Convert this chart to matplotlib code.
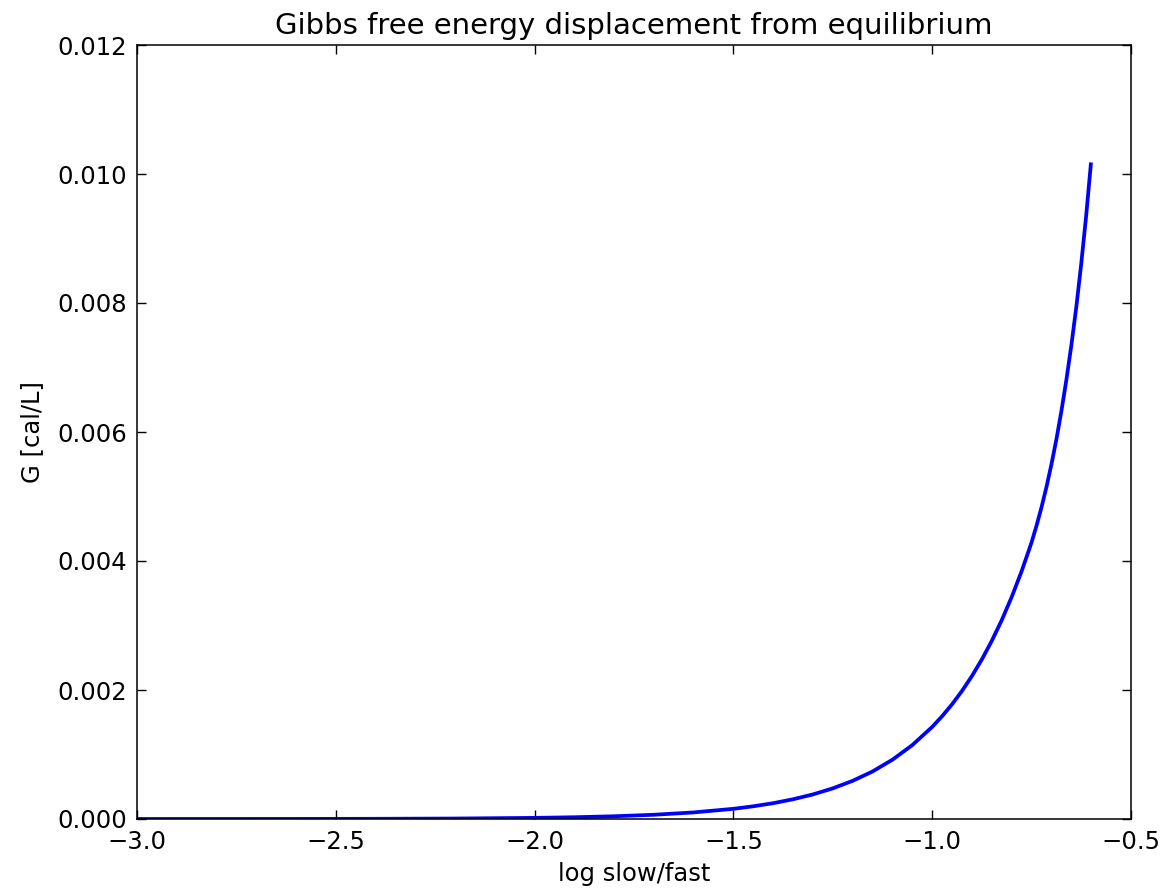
import matplotlib
matplotlib.use("Agg")
import matplotlib.pyplot as plt

# log(slow/fast) values and Gibbs free energy displacement [cal/L]
log_ratio = [-3.0, -2.8, -2.6, -2.4, -2.2, -2.0, -1.9, -1.8, -1.7, -1.6,
             -1.5, -1.45, -1.4, -1.35, -1.3, -1.25, -1.2, -1.15, -1.1, -1.05,
             -1.0, -0.975, -0.95, -0.925, -0.9, -0.875, -0.85, -0.825, -0.8,
             -0.775, -0.76, -0.75, -0.7375, -0.725, -0.7125, -0.7, -0.6875,
             -0.675, -0.6625, -0.65, -0.6375, -0.625, -0.6125, -0.601]
gibbs = [2.2e-7, 5.2e-7, 1.25e-6, 3.0e-6, 7.3e-6, 1.76e-5, 2.73e-5, 4.24e-5,
         6.57e-5, 1.02e-4,
         1.58e-4, 1.97e-4, 2.45e-4, 3.06e-4, 3.81e-4, 4.75e-4, 5.92e-4,
         7.37e-4, 9.19e-4, 1.146e-3,
         1.428e-3, 1.594e-3, 1.779e-3, 1.986e-3, 2.217e-3, 2.475e-3, 2.763e-3,
         3.084e-3, 3.443e-3,
         3.843e-3, 4.11e-3, 4.291e-3, 4.55e-3, 4.834e-3, 5.15e-3, 5.502e-3,
         5.89e-3, 6.326e-3, 6.81e-3, 7.345e-3, 7.94e-3, 8.618e-3, 9.37e-3,
         1.015e-2]

title = "Gibbs free energy displacement from equilibrium"
xlabel = "log slow/fast"
ylabel = "G [cal/L]"
xticks = [-3.0, -2.5, -2.0, -1.5, -1.0, -0.5]
yticks = [0.000, 0.002, 0.004, 0.006, 0.008, 0.010, 0.012]

plt.rcParams['font.family'] = ['DejaVu Sans']
plt.rcParams['axes.unicode_minus'] = True

fig = plt.figure(figsize=(11.67, 8.89), dpi=100)
ax = fig.add_axes([137/1167, 70/889, (1131-137)/1167, (819-45)/889])

ax.plot(log_ratio, gibbs, color='#0000ff', linewidth=2.7)

ax.set_xlim(-3.0, -0.5)
ax.set_ylim(0.0, 0.012)
ax.set_xticks(xticks)
ax.set_yticks(yticks)
ax.set_xticklabels([f"{t:.1f}".replace('-', '\u2212') for t in xticks])
ax.set_yticklabels([f"{t:.3f}" for t in yticks])

ax.tick_params(direction='in', length=6.3, width=1.0, top=True, right=True,
               labelsize=17.5, colors='black')
ax.tick_params(axis='x', pad=8)
ax.tick_params(axis='y', pad=7)
for s in ax.spines.values():
    s.set_linewidth(1.1)
    s.set_color('black')

ax.set_title(title, fontsize=21, pad=8)
ax.set_xlabel(xlabel, fontsize=17.5, labelpad=6)
ax.set_ylabel(ylabel, fontsize=17.5, labelpad=10)

fig.savefig("out.png", dpi=100, facecolor='white')
